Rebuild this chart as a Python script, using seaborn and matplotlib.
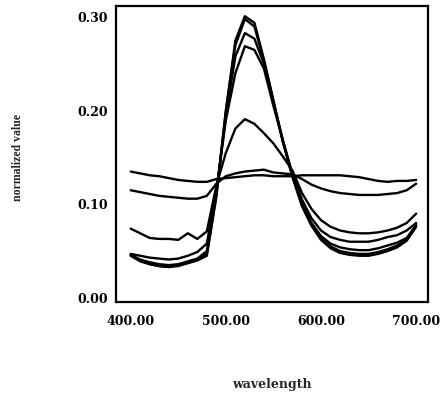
import numpy as np
import pandas as pd
import seaborn as sns
import matplotlib
matplotlib.use("Agg")
import matplotlib.pyplot as plt
from matplotlib.ticker import FormatStrFormatter

# wavelength samples (nm)
wavelength = [400, 410, 420, 430, 440, 450, 460, 470, 480, 490,
              500, 510, 520, 530, 540, 550, 560, 570, 580, 590,
              600, 610, 620, 630, 640, 650, 660, 670, 680, 690, 700]

# flat curve, starts high
flat_a = [.135, .133, .131, .130, .128, .126, .125, .124, .124, .127,
          .128, .129, .130, .131, .131, .130, .130, .130, .131, .131,
          .131, .131, .131, .130, .129, .127, .125, .124, .125, .125, .126]
# flat curve with a dip on both sides
flat_b = [.115, .113, .111, .109, .108, .107, .106, .106, .109, .122,
          .130, .133, .135, .136, .137, .134, .133, .132, .127, .121,
          .117, .114, .112, .111, .110, .110, .110, .111, .112, .115, .122]
# medium peak
mid_c = [.074, .069, .064, .063, .063, .062, .069, .063, .071, .120,
         .155, .181, .191, .186, .176, .165, .151, .136, .112, .095,
         .083, .076, .072, .070, .069, .069, .070, .072, .075, .080, .090]
# sharp peaks
sharp_4 = [.047, .045, .043, .042, .041, .042, .045, .049, .058, .115,
           .190, .240, .269, .265, .245, .205, .168, .132, .105, .085,
           .072, .065, .062, .060, .060, .060, .062, .065, .067, .072, .080]
sharp_3 = [.046, .041, .038, .036, .035, .036, .039, .042, .050, .112,
           .195, .258, .283, .277, .250, .208, .168, .131, .100, .080,
           .066, .058, .054, .052, .051, .051, .053, .056, .059, .064, .078]
sharp_2 = [.046, .040, .036, .034, .033, .035, .038, .041, .047, .110,
           .200, .270, .298, .290, .253, .210, .167, .130, .099, .078,
           .063, .055, .050, .048, .047, .047, .049, .052, .056, .062, .077]
sharp_1 = [.045, .039, .036, .034, .033, .034, .037, .040, .045, .108,
           .200, .275, .301, .294, .255, .211, .166, .129, .098, .077,
           .062, .053, .048, .046, .045, .045, .047, .050, .054, .061, .076]

curves = {"a": flat_a, "b": flat_b, "c": mid_c,
          "s4": sharp_4, "s3": sharp_3, "s2": sharp_2, "s1": sharp_1}

frames = []
for name, vals in curves.items():
    frames.append(pd.DataFrame({"wavelength": wavelength, "value": vals, "curve": name}))
df = pd.concat(frames, ignore_index=True)

sns.set_style("white")
plt.rcParams['font.family'] = ['DejaVu Serif']

fig = plt.figure(figsize=(4.46, 3.95), dpi=100)
ax = fig.add_axes([0.260, 0.235, 0.700, 0.750])

sns.lineplot(data=df, x="wavelength", y="value", hue="curve",
             palette=["black"] * len(curves), linewidth=1.7,
             legend=False, ax=ax, estimator=None, sort=False)

ax.set_xlim(384.5, 712.6)
ax.set_ylim(-0.0046, 0.312)
ax.set_xticks([400, 500, 600, 700])
ax.set_yticks([0.0, 0.1, 0.2, 0.3])
ax.xaxis.set_major_formatter(FormatStrFormatter('%.2f'))
ax.yaxis.set_major_formatter(FormatStrFormatter('%.2f'))
ax.tick_params(axis='both', direction='in', length=5, width=1.5, colors='black',
               labelsize=9)
ax.tick_params(axis='x', pad=9)
ax.tick_params(axis='y', pad=6)
for lab in ax.get_xticklabels() + ax.get_yticklabels():
    lab.set_fontweight('bold')

for sp in ax.spines.values():
    sp.set_visible(True)
    sp.set_color('black')
    sp.set_linewidth(1.6)

ax.set_xlabel("wavelength", fontsize=9, fontweight='bold', family='DejaVu Serif')
ax.xaxis.set_label_coords(0.5, -0.255)
ax.set_ylabel("normalized value", fontsize=8.5, fontweight='bold',
              family='Liberation Serif')
ax.yaxis.set_label_coords(-0.295, 0.49)

fig.savefig("out.png", dpi=100)
